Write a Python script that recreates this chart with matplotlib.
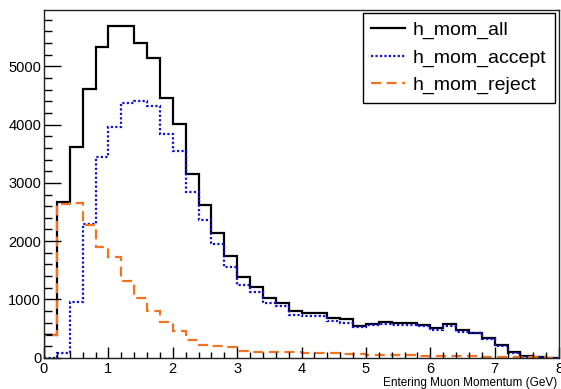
import numpy as np
import matplotlib
matplotlib.use("Agg")
import matplotlib.pyplot as plt
from matplotlib.ticker import MultipleLocator

plt.rcParams["font.family"] = ["Liberation Sans", "DejaVu Sans"]

# 40 bins of 0.2 GeV between 0 and 8 GeV
edges = np.linspace(0, 8, 41)

h_mom_all = [390, 2666, 3613, 4613, 5325, 5690, 5690, 5401, 5144, 4459,
             4002, 3146, 2615, 2147, 1747, 1387, 1216, 1017, 936, 805,
             771, 771, 685, 657, 548, 580, 606, 589, 589, 560,
             503, 571, 474, 428, 332, 217, 103, 29, 6, 2]
h_mom_accept = [0, 75, 959, 2301, 3442, 3955, 4366, 4401, 4327, 3842,
                3545, 2843, 2370, 1947, 1558, 1245, 1119, 931, 885, 731,
                714, 714, 628, 599, 531, 555, 577, 554, 554, 543,
                474, 548, 445, 417, 315, 200, 85, 20, 4, 1]
h_mom_reject = [390, 2630, 2650, 2280, 1900, 1729, 1318, 1017, 805, 616,
                457, 303, 225, 200, 180, 115, 103, 92, 100, 90,
                80, 80, 80, 72, 60, 45, 45, 40, 38, 35,
                30, 28, 25, 22, 18, 15, 12, 8, 5, 3]

fig = plt.figure(figsize=(5.61, 3.89), dpi=100)
ax = fig.add_axes([44 / 561, (389 - 357.7) / 389, 515 / 561, 348.2 / 389])

ax.stairs(h_mom_all, edges, color="black", lw=1.6, label="h_mom_all")
ax.stairs(h_mom_accept, edges, color="#1010d0", lw=1.6,
          linestyle=(0, (1, 1)), label="h_mom_accept")
ax.stairs(h_mom_reject, edges, color="#f47320", lw=1.6,
          linestyle=(0, (4.5, 2.5)), label="h_mom_reject")

ax.set_xlim(0, 8)
ax.set_ylim(0, 1.05 * max(h_mom_all))

ax.xaxis.set_major_locator(MultipleLocator(1))
ax.xaxis.set_minor_locator(MultipleLocator(0.2))
ax.yaxis.set_major_locator(MultipleLocator(1000))
ax.yaxis.set_minor_locator(MultipleLocator(200))
ax.tick_params(axis="both", which="both", direction="in",
               top=False, right=False, labelsize=10.5, colors="black")
ax.tick_params(axis="y", which="major", length=12, width=1, pad=2)
ax.tick_params(axis="y", which="minor", length=6, width=1)
ax.tick_params(axis="x", which="major", length=8, width=1, pad=3)
ax.tick_params(axis="x", which="minor", length=4, width=1)
for s in ax.spines.values():
    s.set_linewidth(1.0)
    s.set_color("#222222")

ax.set_xlabel("Entering Muon Momentum (GeV)", fontsize=8.5, ha="right")
ax.xaxis.set_label_coords(0.996, -0.056)

leg_top = (389 - 12.7) / 389
leg_bottom = (389 - 103) / 389
leg = ax.legend(loc="upper left",
                bbox_to_anchor=(362.7 / 561, leg_bottom,
                                192.3 / 561, leg_top - leg_bottom),
                bbox_transform=fig.transFigure, mode="expand",
                fontsize=14, handlelength=1.75, handletextpad=0.35,
                labelspacing=0.5, borderpad=0.45, borderaxespad=0,
                fancybox=False, framealpha=1, edgecolor="black")
leg.get_frame().set_linewidth(1.0)

fig.savefig("out.png", dpi=100)
